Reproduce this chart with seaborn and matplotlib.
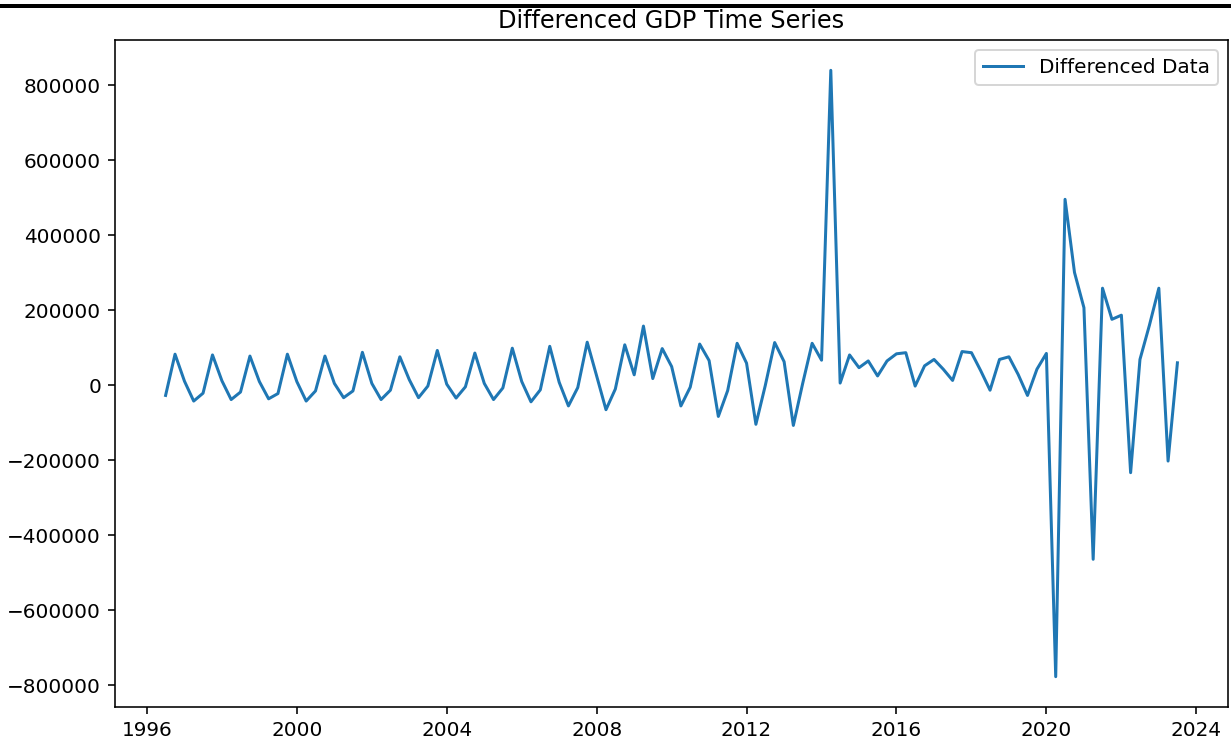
import matplotlib
matplotlib.use("Agg")
from matplotlib import pyplot as plt
from matplotlib.patches import Rectangle
import numpy as np
import pandas as pd
import seaborn as sns

# quarterly first differences of GDP, 1996 Q3 .. 2023 Q3
start_date = "1996-07-01"
diff_1996 = [-27000, 83000]
diff_1997 = [11000, -42000, -21000, 81000]
diff_1998 = [12000, -38000, -18000, 78000]
diff_1999 = [10000, -36000, -22000, 83000]
diff_2000 = [10000, -42000, -15000, 78000]
diff_2001 = [5000, -33000, -15000, 88000]
diff_2002 = [5000, -38000, -13000, 76000]
diff_2003 = [15000, -33000, -2000, 93000]
diff_2004 = [3000, -34000, -4000, 86000]
diff_2005 = [5000, -38000, -7000, 99000]
diff_2006 = [10000, -44000, -12000, 104000]
diff_2007 = [8000, -55000, -6000, 115000]
diff_2008 = [25000, -65000, -10000, 108000]
diff_2009 = [28000, 158000, 18000, 98000]
diff_2010 = [50000, -55000, -5000, 110000]
diff_2011 = [66000, -83000, -14000, 112000]
diff_2012 = [59000, -104000, -1000, 114000]
diff_2013 = [63000, -107000, 5000, 112000]
diff_2014 = [67000, 840000, 6000, 81000]
diff_2015 = [47000, 65000, 25000, 65000]
diff_2016 = [84000, 87000, -2000, 52000]
diff_2017 = [69000, 43000, 13000, 90000]
diff_2018 = [87000, 39000, -13000, 69000]
diff_2019 = [76000, 29000, -27000, 43000]
diff_2020 = [85000, -777000, 496000, 301000]
diff_2021 = [207000, -464000, 259000, 176000]
diff_2022 = [187000, -233000, 69000, 160000]
diff_2023 = [259000, -202000, 60000]

values = (diff_1996 + diff_1997 + diff_1998 + diff_1999 + diff_2000 + diff_2001
          + diff_2002 + diff_2003 + diff_2004 + diff_2005 + diff_2006 + diff_2007
          + diff_2008 + diff_2009 + diff_2010 + diff_2011 + diff_2012 + diff_2013
          + diff_2014 + diff_2015 + diff_2016 + diff_2017 + diff_2018 + diff_2019
          + diff_2020 + diff_2021 + diff_2022 + diff_2023)

df = pd.DataFrame({
    "date": pd.date_range(start_date, periods=len(values), freq="QS"),
    "diff": values,
})

fig = plt.figure(figsize=(1231 / 144, 745 / 144), dpi=144)
ax = fig.add_axes([115 / 1231, 1 - 707 / 745, (1228 - 115) / 1231, (707 - 40) / 745])

sns.lineplot(data=df, x="date", y="diff", ax=ax, color="#1f77b4",
             linewidth=1.5, label="Differenced Data")
ax.set_title("Differenced GDP Time Series")
ax.set_xlabel("")
ax.set_ylabel("")
ax.legend(loc="upper right")

# dark rule left over from the page the chart was cut from
fig.add_artist(Rectangle((0, 1 - 8 / 745), 1, 4 / 745,
                         transform=fig.transFigure, color="black", lw=0))

fig.savefig("out.png", dpi=144)
